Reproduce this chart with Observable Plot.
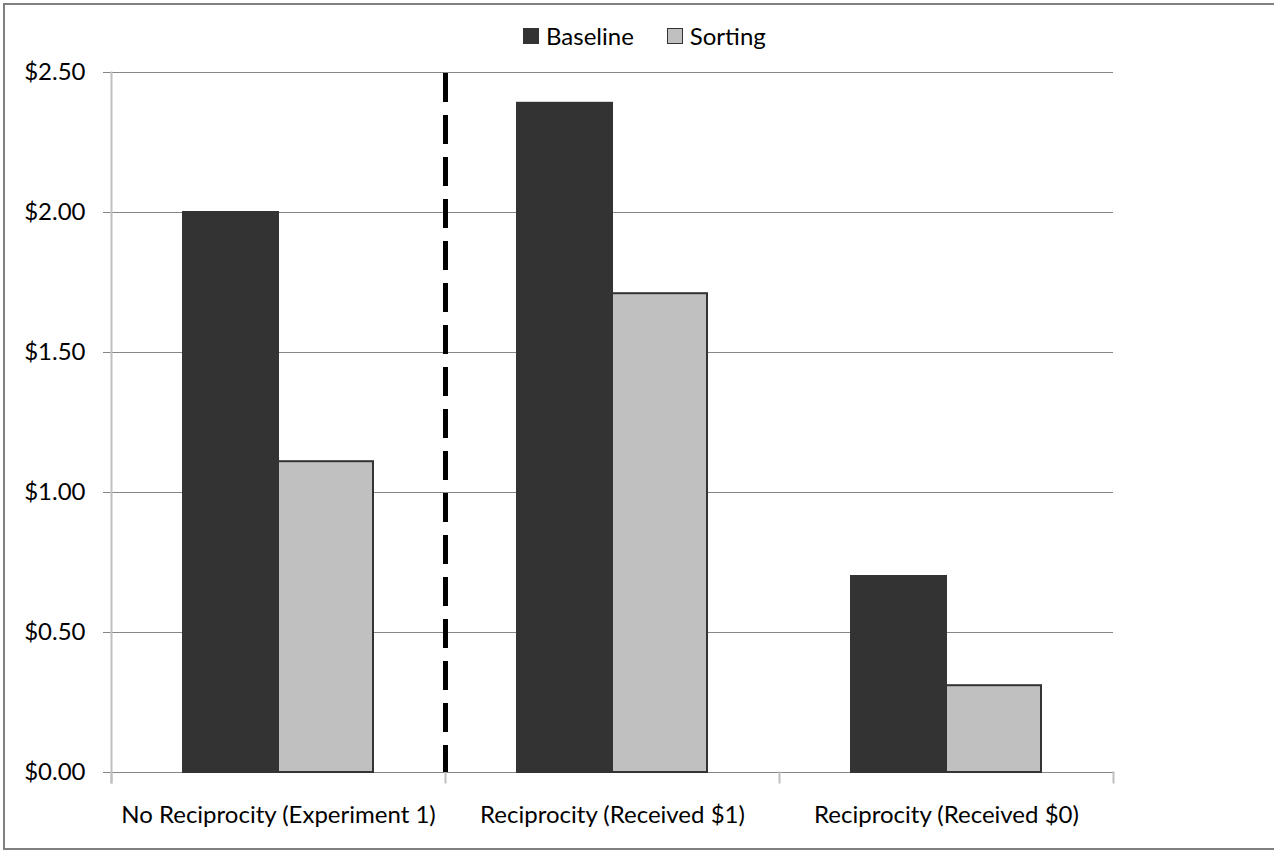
<!DOCTYPE html>
<html><head><meta charset="utf-8">
<script src="https://cdn.jsdelivr.net/npm/d3@7"></script>
<script src="https://cdn.jsdelivr.net/npm/@observablehq/plot@0.6"></script>
<style>
body{margin:0;background:#fff;overflow:hidden;font-family:Lato,sans-serif}
#wrap{position:relative;width:1274px;height:850px;overflow:hidden;background:#fff}
#border{position:absolute;left:3px;top:3px;width:1300px;height:847px;border:2px solid #808080;box-sizing:border-box}
#legend{position:absolute;top:22px;left:523px;height:28px;line-height:28px;display:flex;align-items:center;font-size:24px;color:#000;white-space:nowrap}
.item{display:flex;align-items:center}
.sw{width:14px;height:14px;border:1px solid #333;margin-right:7px}
#chart{position:absolute;left:0;top:0}
</style></head>
<body>
<div id="wrap">
  <div id="border"></div>
  <div id="chart"></div>
  <div id="legend"></div>
</div>
<script>
const categories = ["No Reciprocity (Experiment 1)", "Reciprocity (Received $1)", "Reciprocity (Received $0)"];
const series = ["Baseline", "Sorting"];
const baselineValues = [2.00, 2.39, 0.70];
const sortingValues = [1.11, 1.71, 0.31];
const yTicks = [0, 0.5, 1, 1.5, 2, 2.5];
const colors = ["#333333", "#c0c0c0"];

const rows = categories.flatMap((c, i) => [
  {category: c, series: series[0], value: baselineValues[i]},
  {category: c, series: series[1], value: sortingValues[i]}
]);

const W = 1274, H = 850, mT = 72, mB = 78, mL = 110, mR = 160;
const plotH = H - mT - mB;

const chart = Plot.plot({
  width: W, height: H,
  marginTop: mT, marginBottom: mB, marginLeft: mL, marginRight: mR,
  style: {fontFamily: "Lato, sans-serif", fontSize: "24px", color: "#000", background: "transparent"},
  fx: {domain: categories, padding: 0, label: null, axis: "bottom", tickSize: 0, tickPadding: 33},
  x: {domain: series, paddingInner: 0, paddingOuter: 0.743, axis: null},
  y: {domain: [0, 2.5], axis: null},
  color: {domain: series, range: colors},
  marks: [
    Plot.gridY(yTicks, {stroke: "#868686", strokeOpacity: 1}),
    Plot.axisY(yTicks, {tickFormat: d3.format("$.2f"), tickSize: 8, tickPadding: 18, stroke: "#868686", label: null}),
    Plot.barY(rows, {fx: "category", x: "series", y: "value", fill: "series", stroke: "#333333", strokeWidth: 2}),
    Plot.frame({anchor: "left", fx: categories[0], stroke: "#bfbfbf", strokeWidth: 2, insetBottom: -10}),
    Plot.frame({anchor: "left", stroke: "#bfbfbf", strokeWidth: 2, insetTop: plotH, insetBottom: -10}),
    Plot.frame({anchor: "right", fx: categories[2], stroke: "#bfbfbf", strokeWidth: 2, insetTop: plotH, insetBottom: -10}),
    Plot.frame({anchor: "left", fx: categories[1], stroke: "#000", strokeWidth: 5, strokeDasharray: "24,18", insetTop: 3, insetBottom: 3})
  ]
});
document.getElementById("chart").appendChild(chart);

const legend = document.getElementById("legend");
series.forEach((s, i) => {
  const item = document.createElement("div");
  item.className = "item";
  if (i > 0) item.style.marginLeft = "33px";
  const sw = document.createElement("div");
  sw.className = "sw";
  sw.style.background = colors[i];
  const t = document.createElement("span");
  t.textContent = s;
  item.appendChild(sw);
  item.appendChild(t);
  legend.appendChild(item);
});
</script>
</body></html>
